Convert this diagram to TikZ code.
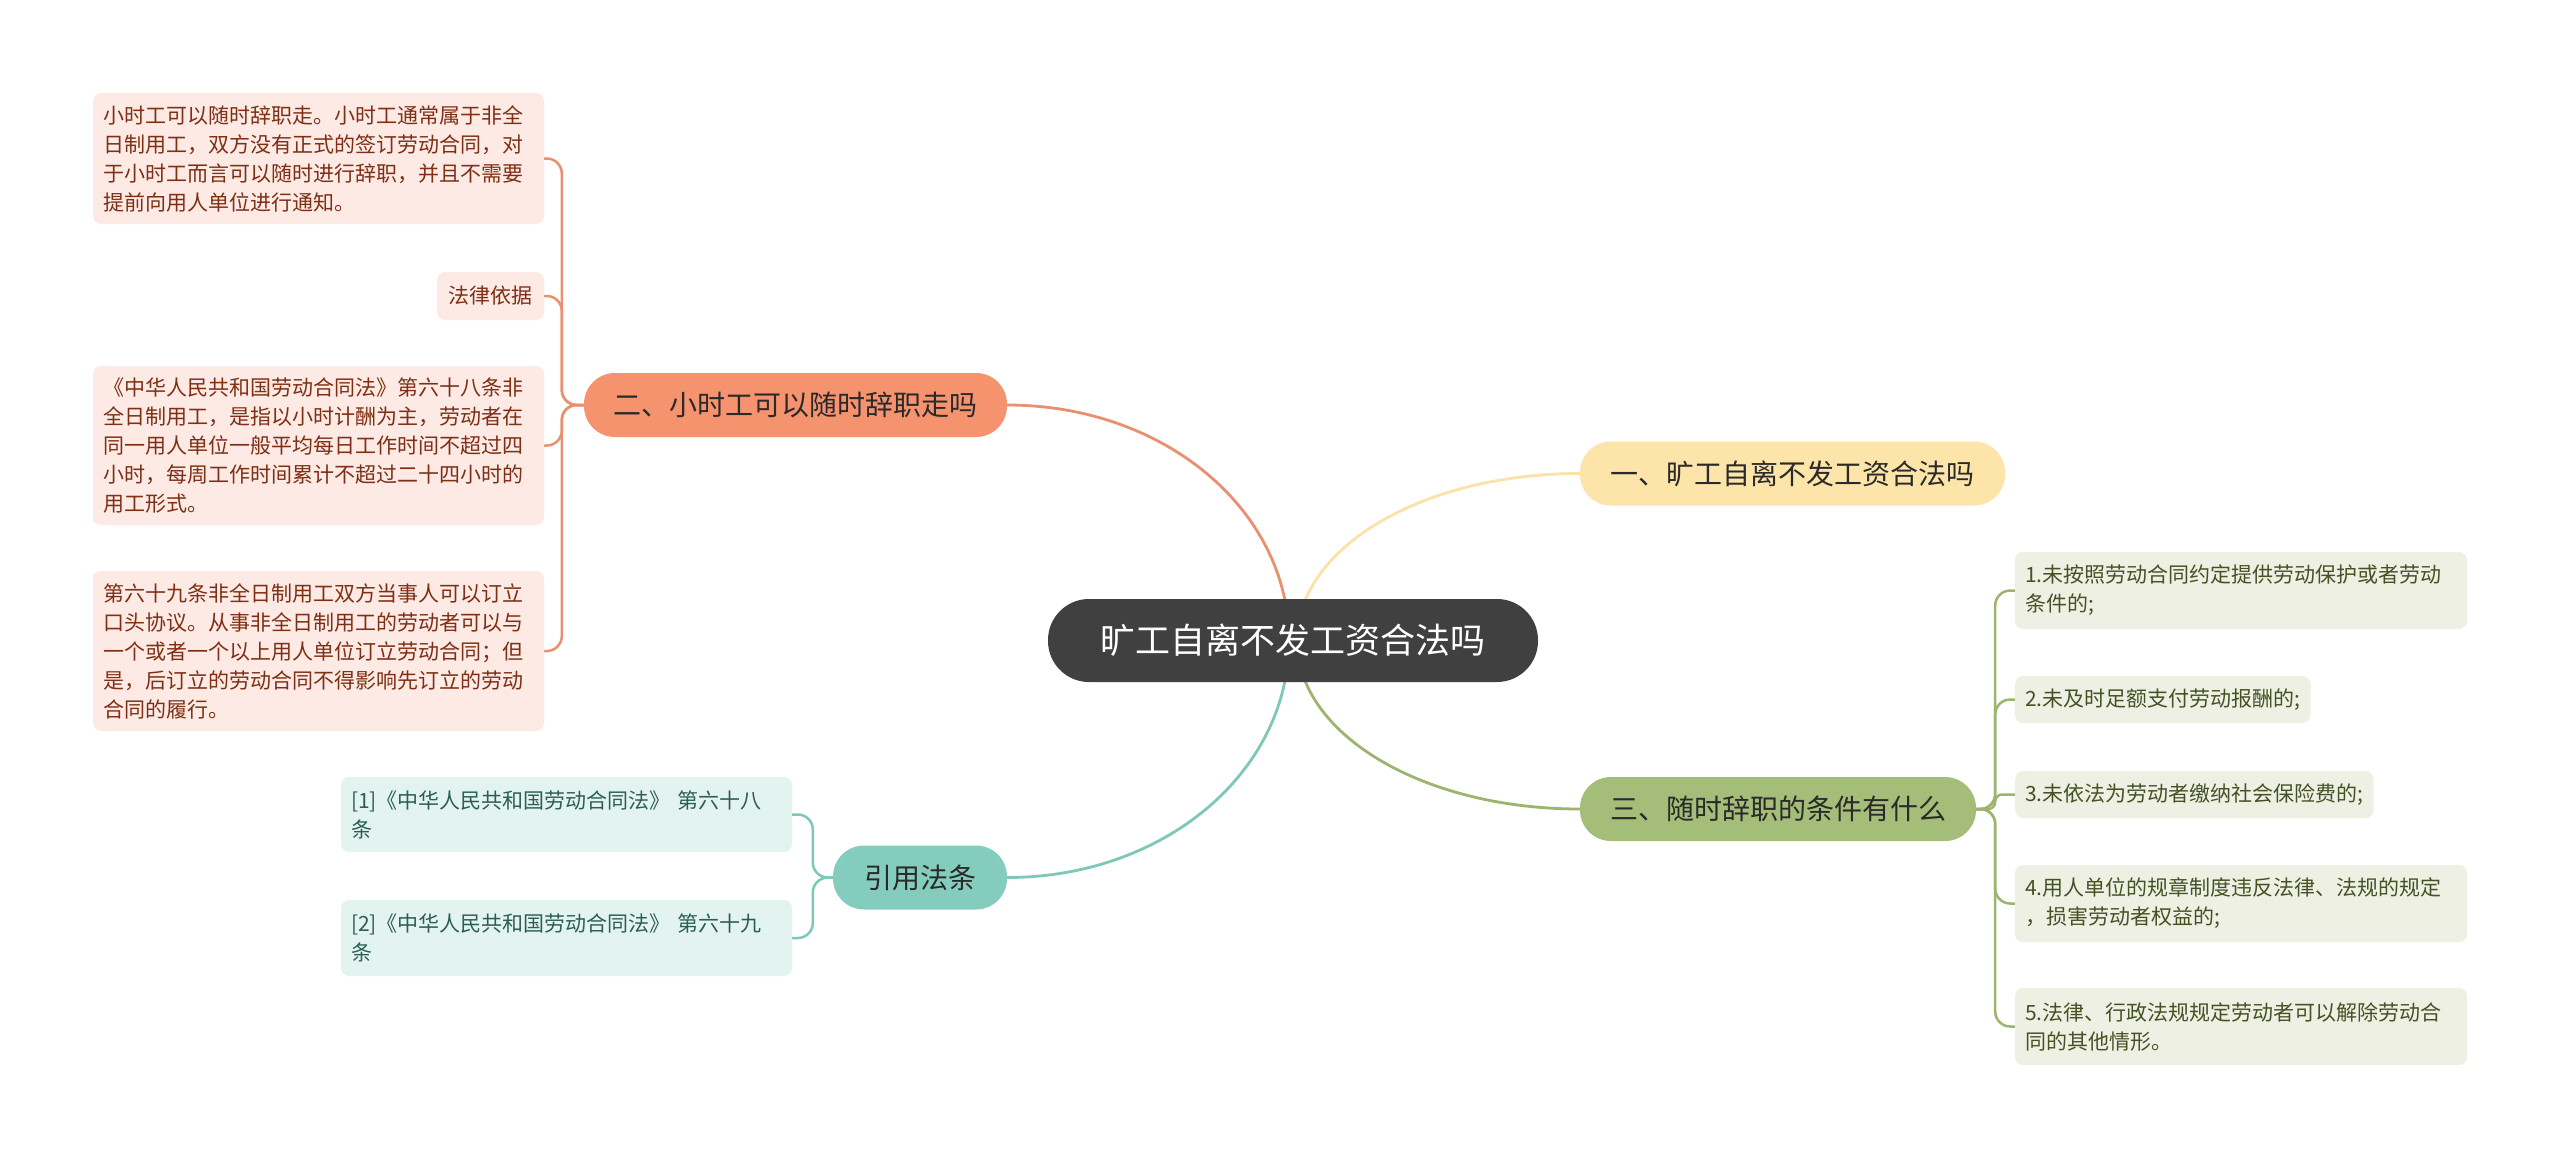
\documentclass[tikz,border=0pt]{standalone}
\usepackage{fontspec}
\newfontfamily\cjk{Noto Sans CJK SC}
\usetikzlibrary{calc,backgrounds}
\definecolor{cdark}{HTML}{404040}
\definecolor{salfill}{HTML}{F6936F}
\definecolor{salline}{HTML}{E8906F}
\definecolor{salleaf}{HTML}{FDEAE5}
\definecolor{saltext}{HTML}{7E2F14}
\definecolor{yelfill}{HTML}{FDE4A9}
\definecolor{yelline}{HTML}{FBE2A8}
\definecolor{grnfill}{HTML}{A4BD78}
\definecolor{grnline}{HTML}{9DB46E}
\definecolor{grnleaf}{HTML}{EEF0E4}
\definecolor{grntext}{HTML}{465224}
\definecolor{tealfill}{HTML}{84CCBD}
\definecolor{tealline}{HTML}{7EC8B8}
\definecolor{tealleaf}{HTML}{E3F4F0}
\definecolor{tealtext}{HTML}{2C5E55}
\definecolor{btext}{HTML}{2A2A2A}
\begin{document}
\begin{tikzpicture}[x=1pt,y=-1pt,
  centralbox/.style={fill=cdark, text=white, rounded corners=41pt, minimum width=490pt, minimum height=83pt, inner sep=0pt, font=\cjk\fontsize{35}{42}\selectfont},
  branchbox/.style={rounded corners=31pt, minimum height=64pt, inner sep=0pt, text=btext, font=\cjk\fontsize{28}{34}\selectfont},
  leafbox/.style={rounded corners=8pt, inner xsep=10pt, inner ysep=6pt, align=left, font=\cjk\fontsize{21}{29}\selectfont},
  lleaf/.style={leafbox, fill=salleaf, text=saltext},
  tleaf/.style={leafbox, fill=tealleaf, text=tealtext},
  gleaf/.style={leafbox, fill=grnleaf, text=grntext},
  mainline/.style={line width=2.8pt},
  subline/.style={line width=2.5pt, rounded corners=15pt}
]
\useasboundingbox (0,0) rectangle (2560,1157);

% central and branches
\node[centralbox] (c) at (1293,640.5) {旷工自离不发工资合法吗};
\node[branchbox, fill=salfill, minimum width=423pt] (b2) at (795.5,405) {二、小时工可以随时辞职走吗};
\node[branchbox, fill=yelfill, minimum width=425pt] (b1) at (1792.5,473.5) {一、旷工自离不发工资合法吗};
\node[branchbox, fill=grnfill, minimum width=396pt] (b3) at (1778,809) {三、随时辞职的条件有什么};
\node[branchbox, fill=tealfill, minimum width=174pt] (b4) at (920,877.5) {引用法条};

% left leaves
\node[lleaf, text width=431pt, minimum height=131pt] (l1) at (318.5,158.5) {小时工可以随时辞职走。小时工通常属于非全\\日制用工，双方没有正式的签订劳动合同，对\\于小时工而言可以随时进行辞职，并且不需要\\提前向用人单位进行通知。};
\node[lleaf, minimum height=48pt, inner xsep=11.5pt] (l2) at (490.5,296) {法律依据};
\node[lleaf, text width=431pt, minimum height=159pt] (l3) at (318.5,445.5) {《中华人民共和国劳动合同法》第六十八条非\\全日制用工，是指以小时计酬为主，劳动者在\\同一用人单位一般平均每日工作时间不超过四\\小时，每周工作时间累计不超过二十四小时的\\用工形式。};
\node[lleaf, text width=431pt, minimum height=160pt] (l4) at (318.5,651) {第六十九条非全日制用工双方当事人可以订立\\口头协议。从事非全日制用工的劳动者可以与\\一个或者一个以上用人单位订立劳动合同；但\\是，后订立的劳动合同不得影响先订立的劳动\\合同的履行。};

% teal leaves
\node[tleaf, text width=431pt, minimum height=75pt] (t1) at (566.5,814.5) {[1]《中华人民共和国劳动合同法》 第六十八\\条};
\node[tleaf, text width=431pt, minimum height=76pt] (t2) at (566.5,938) {[2]《中华人民共和国劳动合同法》 第六十九\\条};

% green leaves
\node[gleaf, text width=432pt, minimum height=77pt] (g1) at (2241,590.5) {1.未按照劳动合同约定提供劳动保护或者劳动\\条件的;};
\node[gleaf, anchor=west, minimum height=47pt] (g2) at (2015,699.5) {2.未及时足额支付劳动报酬的;};
\node[gleaf, anchor=west, minimum height=47pt] (g3) at (2015,794.5) {3.未依法为劳动者缴纳社会保险费的;};
\node[gleaf, text width=432pt, minimum height=77pt] (g4) at (2241,903.5) {4.用人单位的规章制度违反法律、法规的规定\\，损害劳动者权益的;};
\node[gleaf, text width=432pt, minimum height=77pt] (g5) at (2241,1026.5) {5.法律、行政法规规定劳动者可以解除劳动合\\同的其他情形。};

% trunk points
\coordinate (lt) at ($(b2.west)+(-22,0)$);
\coordinate (tt) at ($(b4.west)+(-20,0)$);
\coordinate (rt) at ($(b3.east)+(19,0)$);

\begin{scope}[on background layer]
\fill[white] (0,0) rectangle (2560,1157);
% main curves
\draw[mainline, salline] ($(c.center)+(-4,0)$) .. controls ($(c.center)!0.552!(c.center|-b2.east)+(-4,0)$) and ($(b2.east)!0.552!(c.center|-b2.east)$) .. (b2.east);
\draw[mainline, tealline] ($(c.center)+(-4,0)$) .. controls ($(c.center)!0.552!(c.center|-b4.east)+(-4,0)$) and ($(b4.east)!0.552!(c.center|-b4.east)$) .. (b4.east);
\draw[mainline, yelline] ($(c.center)+(4,0)$) .. controls ($(c.center)!0.552!(c.center|-b1.west)+(4,0)$) and ($(b1.west)!0.552!(c.center|-b1.west)$) .. (b1.west);
\draw[mainline, grnline] ($(c.center)+(4,0)$) .. controls ($(c.center)!0.552!(c.center|-b3.west)+(4,0)$) and ($(b3.west)!0.552!(c.center|-b3.west)$) .. (b3.west);
% sub connectors
\foreach \n in {l1,l2,l3,l4} \draw[subline, salline] (b2.west) -- (lt) |- (\n.east);
\foreach \n in {t1,t2} \draw[subline, tealline] (b4.west) -- (tt) |- (\n.east);
\foreach \n in {g1,g2,g4,g5} \draw[subline, grnline] (b3.east) -- (rt) |- (\n.west);
\draw[subline, grnline, rounded corners=7pt] (b3.east) -- (rt) |- (g3.west);
\end{scope}
\end{tikzpicture}
\end{document}
